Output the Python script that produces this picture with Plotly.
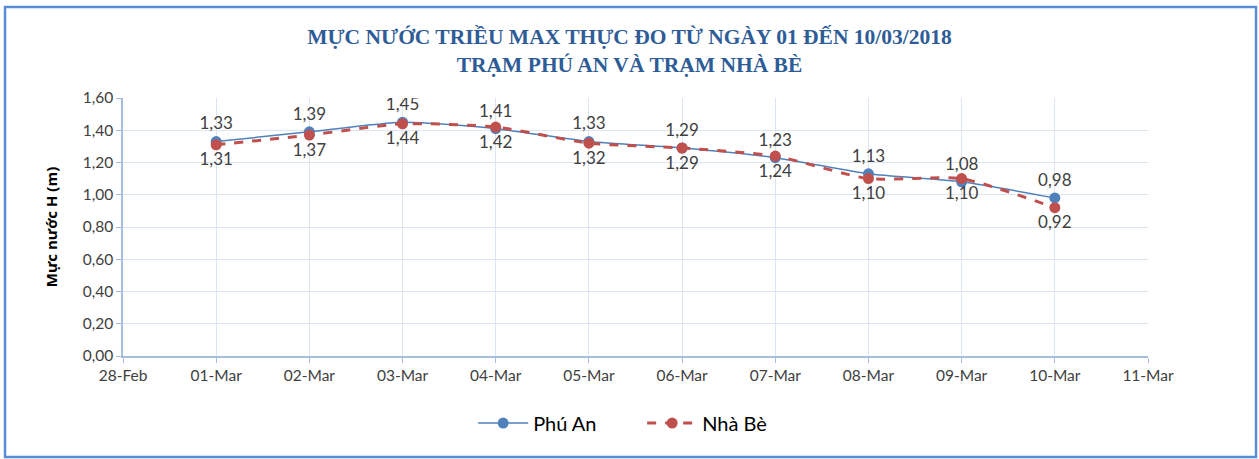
import plotly.graph_objects as go

dates = ["2018-03-01", "2018-03-02", "2018-03-03", "2018-03-04", "2018-03-05",
         "2018-03-06", "2018-03-07", "2018-03-08", "2018-03-09", "2018-03-10"]
phu_an = [1.33, 1.39, 1.45, 1.41, 1.33, 1.29, 1.23, 1.13, 1.08, 0.98]
nha_be = [1.31, 1.37, 1.44, 1.42, 1.32, 1.29, 1.24, 1.10, 1.10, 0.92]
y_ticks = [0, 0.2, 0.4, 0.6, 0.8, 1.0, 1.2, 1.4, 1.6]

def fmt(v):
    return f"{v:.2f}".replace(".", ",")

FONT = "Lato, Carlito, sans-serif"

fig = go.Figure()
fig.add_trace(go.Scatter(
    x=dates, y=phu_an, name="Phú An", mode="lines+markers+text",
    line=dict(color="#4F81BD", width=1.5, shape="spline", smoothing=0.6),
    marker=dict(color="#4F81BD", size=11),
    text=[fmt(v) for v in phu_an], textposition="top center",
    textfont=dict(family=FONT, size=17, color="#404040"),
))
fig.add_trace(go.Scatter(
    x=dates, y=nha_be, name="Nhà Bè", mode="lines+markers+text",
    line=dict(color="#C0504D", width=3, dash="dash", shape="spline", smoothing=0.6),
    marker=dict(color="#C0504D", size=11),
    text=[fmt(v) for v in nha_be], textposition="bottom center",
    textfont=dict(family=FONT, size=17, color="#404040"),
))

axis_line = "#A6BFDE"
grid = "#DCE6F2"

fig.update_layout(
    width=1259, height=459,
    margin=dict(l=123, r=111, t=98, b=103),
    paper_bgcolor="white", plot_bgcolor="white",
    title=dict(
        text="MỰC NƯỚC TRIỀU MAX THỰC ĐO TỪ NGÀY 01 ĐẾN 10/03/2018<br>TRẠM PHÚ AN VÀ TRẠM NHÀ BÈ",
        x=0.5, xanchor="center", y=0.905, yanchor="top",
        font=dict(family="Liberation Serif, Times New Roman, serif", size=21.5, color="#2E5C96", weight="bold"),
    ),
    font=dict(family=FONT, size=15, color="#404040"),
    xaxis=dict(
        type="date", range=["2018-02-28", "2018-03-11"], dtick=86400000,
        tick0="2018-02-28", tickformat="%d-%b",
        showgrid=True, gridcolor=grid, gridwidth=1,
        showline=True, linecolor=axis_line, linewidth=1.5,
        ticks="outside", ticklen=5, tickcolor=axis_line,
        tickfont=dict(size=15.5, color="#404040"),
        zeroline=False,
    ),
    yaxis=dict(
        range=[0, 1.6], tickvals=y_ticks, ticktext=[fmt(v) for v in y_ticks],
        showgrid=True, gridcolor=grid, gridwidth=1,
        showline=True, linecolor=axis_line, linewidth=1.5,
        ticks="outside", ticklen=5, tickcolor=axis_line,
        tickfont=dict(size=15.5, color="#404040"),
        title=dict(text="<b>Mực nước H (m)</b>",
                   font=dict(family="Open Sans, sans-serif", size=15, color="#000000"), standoff=21),
        zeroline=False,
    ),
    legend=dict(
        orientation="h", x=0.5065, xanchor="center", y=-0.26, yanchor="middle",
        font=dict(size=20, color="#000000"), itemwidth=50, traceorder="normal",
        entrywidth=104, entrywidthmode="pixels",
    ),
    shapes=[dict(
        type="rect", xref="paper", yref="paper",
        x0=-0.1151, x1=1.1054, y0=-0.3915, y1=1.3527,
        line=dict(color="#5B8DD6", width=2.5), fillcolor="rgba(0,0,0,0)", layer="below",
    )],
)

fig.write_html(
    "out.html",
    config={"displayModeBar": False},
    post_script="document.body.style.margin='0';document.body.style.padding='0';",
)
